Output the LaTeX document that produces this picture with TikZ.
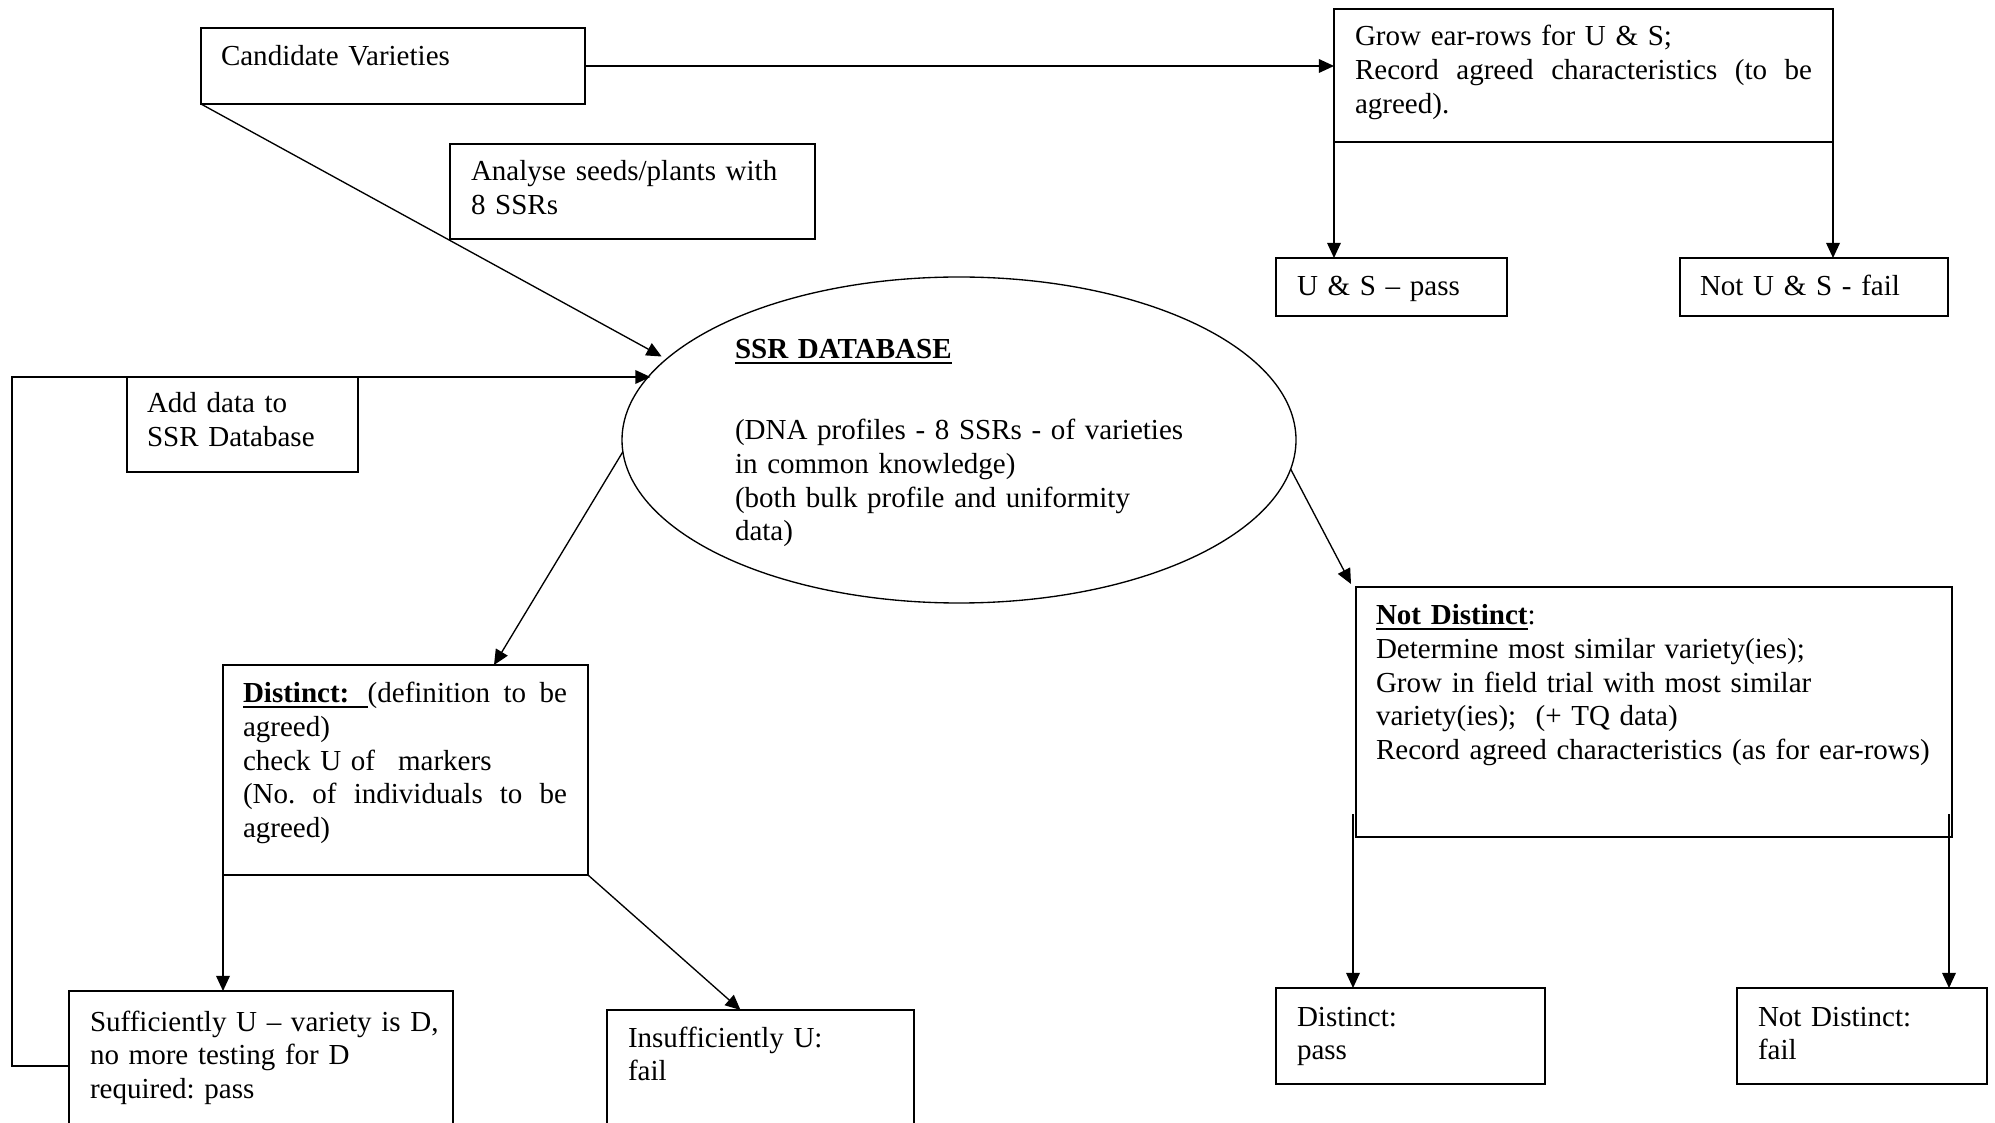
\documentclass[tikz,border=0pt]{standalone}
\usepackage{fontspec}
\setmainfont{Liberation Serif}
\usetikzlibrary{arrows.meta,calc,shapes.geometric}
\newdimen\px \px=0.41pt
\newcommand\jline[2]{\leavevmode\hbox to #1\px{#2}}
\newcommand\ulwide[2]{\setbox0\hbox{\textbf{#1}}\rlap{\rule[-1.9pt]{\dimexpr\wd0+#2\relax}{0.6pt}}\box0\kern#2}
\begin{document}
\frenchspacing
\begin{tikzpicture}[x=0.41pt,y=-0.41pt,
  bx/.style={draw, line width=0.6pt, rectangle, inner sep=0pt, outer sep=0pt},
  bxs/.style n args={2}{minimum width=#1\px, minimum height=#2\px},
  tx/.style={anchor=base west, inner sep=0pt, outer sep=0pt, align=left,
             font=\fontsize{11.9pt}{13.75pt}\selectfont\frenchspacing},
  arr/.style={line width=0.55pt, -{Triangle[length=6.2pt,width=5.6pt]}},
  ln/.style={line width=0.55pt}]
\useasboundingbox (0,0) rectangle (1995,1123);
\clip (0,0) rectangle (1995,1123);

% boxes
\node[bx, bxs={384}{76}]  (cand)   at (393,66) {};
\node[bx, bxs={499}{133}] (grow)   at (1583.5,75.5) {};
\node[bx, bxs={365}{95}]  (anal)   at (632.5,191.5) {};
\node[bx, bxs={231}{58}]  (usp)    at (1391.5,287) {};
\node[bx, bxs={268}{58}]  (nusf)   at (1814,287) {};
\node[bx, bxs={231}{95}]  (add)    at (242.5,424.5) {};
\node[bx, bxs={365}{210}] (dist)   at (405.5,770) {};
\node[bx, bxs={384}{150}] (suf)    at (261,1066) {};
\node[bx, bxs={307}{130}] (insuf)  at (760.5,1075) {};
\node[bx, bxs={596}{250}] (nd)     at (1654,712) {};
\node[bx, bxs={269}{96}]  (dpass)  at (1410.5,1036) {};
\node[bx, bxs={250}{96}]  (ndfail) at (1862,1036) {};
\node[draw, ellipse, line width=0.55pt, inner sep=0pt, outer sep=0pt,
      minimum width=674\px, minimum height=326\px] (db) at (959,440) {};

% texts
\node[tx, text width=340\px] (candt) at (221,66) {Candidate Varieties};
\node[tx, text width=457\px] (growt) at (1355,46)
  {Grow ear-rows for U \& S;\\
   \jline{457}{Record\hfill agreed\hfill characteristics\hfill (to\hfill be}\\
   agreed).};
\node[tx, text width=330\px] (analt) at (471,181) {Analyse seeds/plants with\\8 SSRs};
\node[tx, text width=200\px] (uspt) at (1297,296) {U \& S -- pass};
\node[tx, text width=240\px] (nusft) at (1700,296) {Not U \& S - fail};
\node[tx, text width=200\px] (addt) at (147,413) {Add data to\\SSR Database};
\node[tx, text width=420\px] (dbh) at (735,359) {\ulwide{SSR DATABASE}{0pt}};
\node[tx, text width=480\px] (dbt) at (735,440)
  {(DNA profiles - 8 SSRs - of varieties\\in common knowledge)\\(both bulk profile and uniformity\\data)};
\node[tx, text width=324\px] (distt) at (243,703)
  {\jline{324}{\ulwide{Distinct:}{7.5pt}(definition\hfill to\hfill be}\\
   agreed)\\
   check U of\hspace{9.4pt}markers\\
   \jline{324}{(No.\hfill of\hfill individuals\hfill to\hfill be}\\
   agreed)};
\node[tx, text width=360\px] (suft) at (90,1031)
  {Sufficiently U -- variety is D,\\no more testing for D\\required: pass};
\node[tx, text width=280\px] (insuft) at (628,1047) {Insufficiently U:\\fail};
\node[tx, text width=570\px] (ndt) at (1376,625)
  {\ulwide{Not Distinct}{0pt}:\\
   Determine most similar variety(ies);\\
   Grow in field trial with most similar\\
   variety(ies);\ \ (+ TQ data)\\
   Record agreed characteristics (as for ear-rows)};
\node[tx, text width=240\px] (dpasst) at (1297,1026) {Distinct:\\pass};
\node[tx, text width=220\px] (ndfailt) at (1758,1026) {Not Distinct:\\fail};

% connectors
\coordinate (fbc) at (12,377);
\coordinate (ndl) at ($(nd.south west)+(-3,-23)$);
\coordinate (ndr) at ($(nd.south east)+(-3,-23)$);
\draw[arr] (cand.east) -- (cand.east -| grow.west);
\draw[arr] (cand.south west) -- ($(db.163.8)+(-12.5,3.6)$);
\draw[arr] (suf.west) -| (fbc) -- (fbc -| db.168.6);
\draw[arr] (grow.south west) -- (grow.south west |- usp.north);
\draw[arr] (grow.south east) -- (grow.south east |- nusf.north);
\draw[arr] (db.182) -- ($(dist.north west)+(271,0)$);
\draw[arr] (dist.south west) -- (dist.south west |- suf.north);
\draw[arr] (dist.south east) -- ($(insuf.north)+(-20,0)$);
\draw[arr] (db.-5) -- ($(nd.north west)+(-5,-3)$);
\draw[arr] (ndl) -- (ndl |- dpass.north);
\draw[arr] (ndr) -- (ndr |- ndfail.north);
\end{tikzpicture}
\end{document}
